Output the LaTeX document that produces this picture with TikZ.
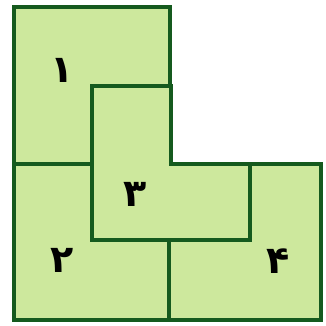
\documentclass[tikz,border=0pt]{standalone}
\usepackage{fontspec}
\newfontfamily\arabicfont[Script=Arabic]{DejaVu Sans}
\TeXXeTstate=1
\definecolor{piecefill}{HTML}{CDE89D}
\definecolor{pieceline}{HTML}{155A1E}
\begin{document}
\begin{tikzpicture}[x=1pt,y=-1pt,
  piece/.style={fill=piecefill,draw=pieceline,line width=4pt,line join=miter},
  num/.style={font=\arabicfont\bfseries\fontsize{38}{38}\selectfont,text=black,inner sep=0pt}]
\useasboundingbox (0,0) rectangle (325,326);
% piece 1
\draw[piece] (14,7) -- (170,7) -- (170,86) -- (92,86) -- (92,164) -- (14,164) -- cycle;
% piece 2
\draw[piece] (14,164) -- (92,164) -- (92,240) -- (169,240) -- (169,320) -- (14,320) -- cycle;
% piece 4
\draw[piece] (250,164) -- (321,164) -- (321,320) -- (169,320) -- (169,240) -- (250,240) -- cycle;
% piece 3
\draw[piece] (92,86) -- (171,86) -- (171,164) -- (250,164) -- (250,240) -- (92,240) -- cycle;
\node[num] (n1) at (62,70) {\beginR ۱\endR};
\node[num] (n3) at (135,194) {\beginR ۳\endR};
\node[num] (n2) at (62,260) {\beginR ۲\endR};
\node[num] (n4) at (278,261) {\beginR ۴\endR};
\end{tikzpicture}
\end{document}
